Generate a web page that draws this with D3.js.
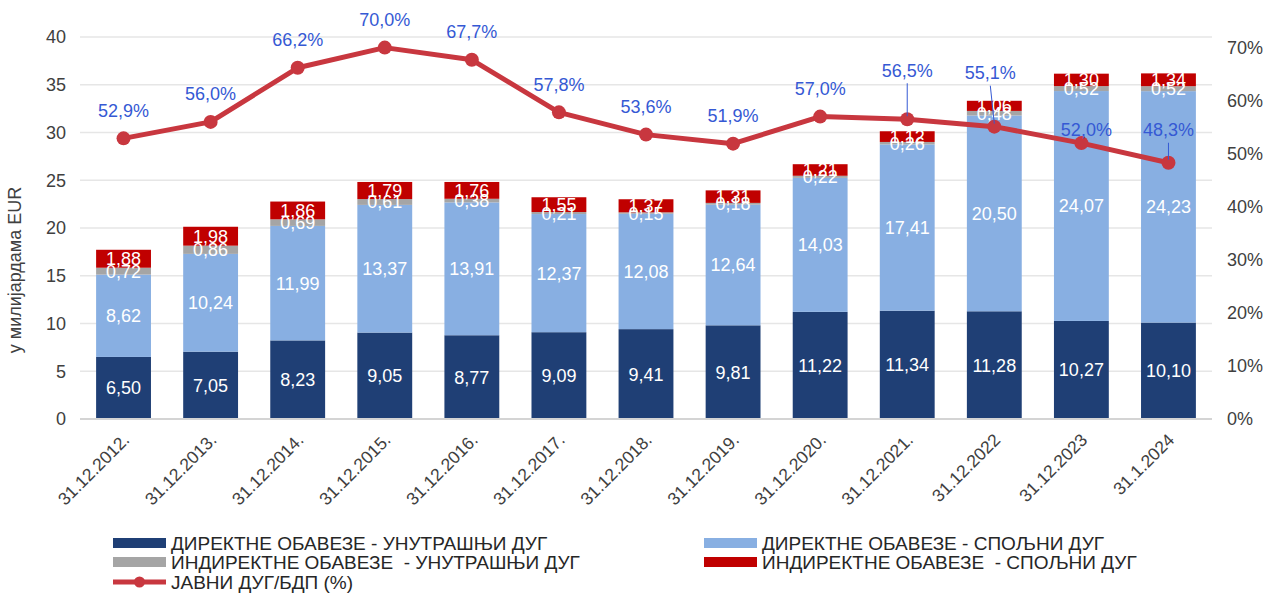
<!DOCTYPE html>
<html>
<head>
<meta charset="utf-8">
<script src="https://cdn.jsdelivr.net/npm/d3@7"></script>
<style>
  body { margin: 0; background: #fff; }
  text { font-family: "Liberation Sans", Arial, sans-serif; white-space: pre; }
</style>
</head>
<body>
<script>
// categories
var dates = ["31.12.2012.", "31.12.2013.", "31.12.2014.", "31.12.2015.", "31.12.2016.", "31.12.2017.",
             "31.12.2018.", "31.12.2019.", "31.12.2020.", "31.12.2021.", "31.12.2022", "31.12.2023", "31.1.2024"];

// series (billion EUR)
var directDomestic = [6.50, 7.05, 8.23, 9.05, 8.77, 9.09, 9.41, 9.81, 11.22, 11.34, 11.28, 10.27, 10.10];
var directExternal = [8.62, 10.24, 11.99, 13.37, 13.91, 12.37, 12.08, 12.64, 14.03, 17.41, 20.50, 24.07, 24.23];
var indirectDomestic = [0.72, 0.86, 0.69, 0.61, 0.38, 0.21, 0.15, 0.18, 0.22, 0.26, 0.48, 0.52, 0.52];
var indirectExternal = [1.88, 1.98, 1.86, 1.79, 1.76, 1.55, 1.37, 1.31, 1.21, 1.12, 1.06, 1.30, 1.34];
// public debt / GDP (%)
var debtToGdp = [52.9, 56.0, 66.2, 70.0, 67.7, 57.8, 53.6, 51.9, 57.0, 56.5, 55.1, 52.0, 48.3];

var leftTicks = [0, 5, 10, 15, 20, 25, 30, 35, 40];
var rightTicks = [0, 10, 20, 30, 40, 50, 60, 70];

var seriesNames = ["ДИРЕКТНЕ ОБАВЕЗЕ - УНУТРАШЊИ ДУГ", "ДИРЕКТНЕ ОБАВЕЗЕ - СПОЉНИ ДУГ",
                   "ИНДИРЕКТНЕ ОБАВЕЗЕ  - УНУТРАШЊИ ДУГ", "ИНДИРЕКТНЕ ОБАВЕЗЕ  - СПОЉНИ ДУГ"];
var lineName = "ЈАВНИ ДУГ/БДП (%)";
var colors = ["#1F3F75", "#88AFE2", "#A5A5A5", "#C00000"];
var lineColor = "#C8373F";
var labelBlue = "#3559D4";

var W = 1279, H = 595;
var margin = {top: 37, right: 67, bottom: 176, left: 80};
var width = W - margin.left - margin.right,
    height = H - margin.top - margin.bottom;

var svg = d3.select("body").append("svg")
    .attr("width", W).attr("height", H);
var g = svg.append("g")
    .attr("transform", "translate(" + margin.left + "," + margin.top + ")");

var x = d3.scaleBand().domain(dates).range([0, width]).paddingInner(0.37).paddingOuter(0.185);
var y = d3.scaleLinear().domain([0, 40]).range([height, 0]);
var y2 = d3.scaleLinear().domain([0, 72]).range([height, 0]);

// grid
g.selectAll(".grid").data(leftTicks.slice(1)).enter().append("line")
    .attr("x1", 0).attr("x2", width)
    .attr("y1", function(d){ return y(d); }).attr("y2", function(d){ return y(d); })
    .attr("stroke", "#E6E6E6").attr("stroke-width", 1.5);

// stacked bars
var rows = dates.map(function(d, i){
    return {date: d, s0: directDomestic[i], s1: directExternal[i], s2: indirectDomestic[i], s3: indirectExternal[i]};
});
var stack = d3.stack().keys(["s0", "s1", "s2", "s3"])(rows);

var layers = g.selectAll(".layer").data(stack).enter().append("g")
    .attr("fill", function(d, i){ return colors[i]; });
layers.selectAll("rect").data(function(d){ return d; }).enter().append("rect")
    .attr("x", function(d){ return x(d.data.date); })
    .attr("width", x.bandwidth())
    .attr("y", function(d){ return y(d[1]); })
    .attr("height", function(d){ return y(d[0]) - y(d[1]); });

// baseline
g.append("line").attr("x1", 0).attr("x2", width).attr("y1", height).attr("y2", height)
    .attr("stroke", "#D4D4D4").attr("stroke-width", 2);

// bar value labels
stack.forEach(function(layer){
    g.selectAll(null).data(layer).enter().append("text")
        .attr("x", function(d){ return x(d.data.date) + x.bandwidth() / 2; })
        .attr("y", function(d){ return (y(d[0]) + y(d[1])) / 2; })
        .attr("dy", "0.36em")
        .attr("text-anchor", "middle")
        .attr("fill", "#fff")
        .style("font-size", "18px")
        .text(function(d){ return (d[1] - d[0]).toFixed(2).replace(".", ","); });
});

// line
var cx = function(i){ return x(dates[i]) + x.bandwidth() / 2; };
var line = d3.line().x(function(d, i){ return cx(i); }).y(function(d){ return y2(d); });
g.append("path").datum(debtToGdp).attr("d", line)
    .attr("fill", "none").attr("stroke", lineColor).attr("stroke-width", 5).attr("stroke-linejoin", "round");
g.selectAll(".dot").data(debtToGdp).enter().append("circle")
    .attr("cx", function(d, i){ return cx(i); })
    .attr("cy", function(d){ return y2(d); })
    .attr("r", 7).attr("fill", lineColor);

// line labels: a few are moved off the line with a leader
var moved = {9: [0, -49], 10: [-4, -54], 11: [5, -14], 12: [0, -33]};
var leaders = {9: true, 10: true, 12: true};
debtToGdp.forEach(function(v, i){
    var off = moved[i] || [0, -28];
    var px = cx(i), py = y2(v);
    if (leaders[i]) {
        g.append("line")
            .attr("x1", px + off[0]).attr("y1", py + off[1] + 13)
            .attr("x2", px).attr("y2", py - 3)
            .attr("stroke", labelBlue).attr("stroke-width", 1);
    }
    g.append("text")
        .attr("x", px + off[0]).attr("y", py + off[1])
        .attr("dy", "0.36em").attr("text-anchor", "middle")
        .attr("fill", labelBlue).style("font-size", "18px")
        .text(v.toFixed(1).replace(".", ",") + "%");
});

// left axis
g.selectAll(".ly").data(leftTicks).enter().append("text")
    .attr("x", -14).attr("y", function(d){ return y(d); }).attr("dy", "0.36em")
    .attr("text-anchor", "end").attr("fill", "#404040").style("font-size", "18px")
    .text(function(d){ return d; });

// right axis
g.selectAll(".ry").data(rightTicks).enter().append("text")
    .attr("x", width + 15).attr("y", function(d){ return y2(d); }).attr("dy", "0.36em")
    .attr("text-anchor", "start").attr("fill", "#404040").style("font-size", "18px")
    .text(function(d){ return d + "%"; });

// x labels
g.selectAll(".xl").data(dates).enter().append("text")
    .attr("transform", function(d){ return "translate(" + (x(d) + x.bandwidth() / 2 + 7) + "," + (height + 22) + ") rotate(-45)"; })
    .attr("text-anchor", "end").attr("fill", "#404040").style("font-size", "17.5px")
    .text(function(d){ return d; });

// y title
svg.append("text")
    .attr("transform", "translate(21,270) rotate(-90)")
    .attr("text-anchor", "middle").attr("fill", "#404040").style("font-size", "18px")
    .text("у милијардама EUR");

// legend
var legendItems = [
    {name: seriesNames[0], color: colors[0], x: 113, y: 543},
    {name: seriesNames[1], color: colors[1], x: 704, y: 543},
    {name: seriesNames[2], color: colors[2], x: 113, y: 562},
    {name: seriesNames[3], color: colors[3], x: 704, y: 562}
];
var lg = svg.append("g");
legendItems.forEach(function(it){
    lg.append("rect").attr("x", it.x).attr("y", it.y - 5).attr("width", 53).attr("height", 10).attr("fill", it.color);
    lg.append("text").attr("x", it.x + 58).attr("y", it.y).attr("dy", "0.36em")
        .attr("fill", "#262626").style("font-size", "19px").text(it.name);
});
lg.append("line").attr("x1", 113).attr("x2", 166).attr("y1", 582).attr("y2", 582)
    .attr("stroke", lineColor).attr("stroke-width", 5);
lg.append("circle").attr("cx", 139.5).attr("cy", 582).attr("r", 5.5).attr("fill", lineColor);
lg.append("text").attr("x", 171).attr("y", 582).attr("dy", "0.36em")
    .attr("fill", "#262626").style("font-size", "19px").text(lineName);
</script>
</body>
</html>
